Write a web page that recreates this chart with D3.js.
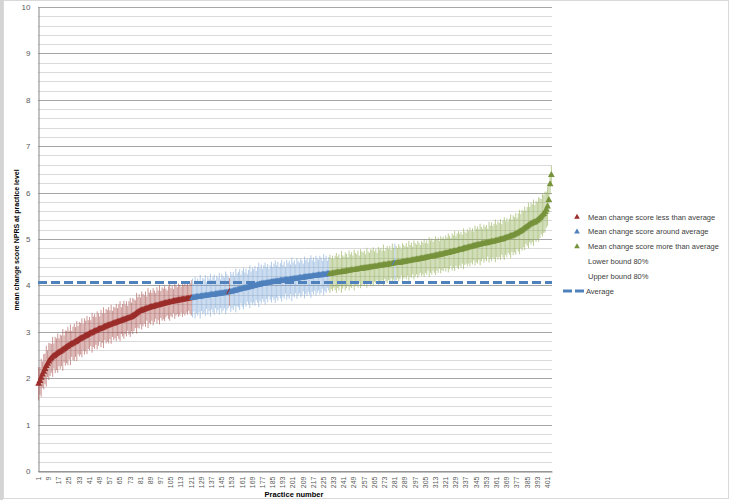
<!DOCTYPE html>
<html>
<head>
<meta charset="utf-8">
<script src="https://cdn.jsdelivr.net/npm/d3@7"></script>
<style>
	body { margin: 0; background: #fff; }
	text { font-family: "Liberation Sans", Arial, sans-serif; }
</style>
</head>
<body>
<svg id="chart" width="730" height="500"></svg>
<script>
// mean change score per practice, sorted ascending
const means = [
	1.88, 1.94, 2.01, 2.08, 2.14, 2.20, 2.26, 2.31, 2.36, 2.40,
	2.43, 2.46, 2.48, 2.50, 2.52, 2.54, 2.56, 2.57, 2.59, 2.61,
	2.63, 2.65, 2.67, 2.69, 2.71, 2.72, 2.74, 2.75, 2.77, 2.78,
	2.80, 2.82, 2.84, 2.85, 2.87, 2.88, 2.90, 2.91, 2.93, 2.94,
	2.96, 2.97, 2.98, 3.00, 3.01, 3.02, 3.03, 3.05, 3.06, 3.07,
	3.08, 3.09, 3.11, 3.12, 3.13, 3.14, 3.15, 3.16, 3.17, 3.18,
	3.19, 3.20, 3.21, 3.22, 3.23, 3.24, 3.25, 3.26, 3.27, 3.28,
	3.29, 3.30, 3.31, 3.32, 3.34, 3.36, 3.38, 3.40, 3.42, 3.44,
	3.45, 3.46, 3.47, 3.48, 3.49, 3.50, 3.51, 3.52, 3.53, 3.54,
	3.54, 3.55, 3.56, 3.57, 3.57, 3.58, 3.59, 3.60, 3.60, 3.61,
	3.62, 3.62, 3.63, 3.64, 3.64, 3.65, 3.66, 3.66, 3.67, 3.67,
	3.68, 3.68, 3.69, 3.69, 3.70, 3.70, 3.71, 3.71, 3.72, 3.72,
	3.73, 3.73, 3.74, 3.74, 3.75, 3.75, 3.75, 3.76, 3.76, 3.77,
	3.77, 3.78, 3.78, 3.78, 3.79, 3.79, 3.80, 3.80, 3.80, 3.81,
	3.81, 3.82, 3.82, 3.82, 3.83, 3.83, 3.84, 3.84, 3.85, 3.85,
	3.86, 3.86, 3.87, 3.88, 3.88, 3.89, 3.90, 3.91, 3.91, 3.92,
	3.93, 3.93, 3.94, 3.95, 3.95, 3.96, 3.97, 3.97, 3.98, 3.99,
	3.99, 4.00, 4.01, 4.01, 4.02, 4.03, 4.03, 4.04, 4.04, 4.05,
	4.05, 4.06, 4.06, 4.07, 4.07, 4.08, 4.08, 4.08, 4.09, 4.09,
	4.10, 4.10, 4.10, 4.11, 4.11, 4.12, 4.12, 4.12, 4.13, 4.13,
	4.14, 4.14, 4.14, 4.15, 4.15, 4.16, 4.16, 4.16, 4.17, 4.17,
	4.18, 4.18, 4.18, 4.19, 4.19, 4.20, 4.20, 4.20, 4.21, 4.21,
	4.22, 4.22, 4.22, 4.23, 4.23, 4.23, 4.24, 4.24, 4.25, 4.25,
	4.25, 4.26, 4.26, 4.27, 4.27, 4.28, 4.28, 4.28, 4.29, 4.29,
	4.30, 4.30, 4.31, 4.31, 4.32, 4.32, 4.33, 4.33, 4.33, 4.34,
	4.34, 4.35, 4.35, 4.36, 4.36, 4.37, 4.37, 4.37, 4.38, 4.38,
	4.39, 4.39, 4.40, 4.40, 4.40, 4.41, 4.41, 4.42, 4.42, 4.43,
	4.43, 4.44, 4.44, 4.44, 4.45, 4.45, 4.46, 4.46, 4.47, 4.47,
	4.48, 4.48, 4.48, 4.49, 4.49, 4.50, 4.50, 4.51, 4.51, 4.52,
	4.52, 4.53, 4.53, 4.54, 4.54, 4.55, 4.55, 4.56, 4.56, 4.57,
	4.57, 4.58, 4.58, 4.59, 4.59, 4.60, 4.61, 4.61, 4.62, 4.62,
	4.63, 4.63, 4.64, 4.65, 4.65, 4.66, 4.66, 4.67, 4.68, 4.68,
	4.69, 4.70, 4.70, 4.71, 4.72, 4.72, 4.73, 4.74, 4.74, 4.75,
	4.76, 4.77, 4.77, 4.78, 4.79, 4.80, 4.80, 4.81, 4.82, 4.83,
	4.83, 4.84, 4.85, 4.86, 4.86, 4.87, 4.88, 4.88, 4.89, 4.90,
	4.90, 4.91, 4.91, 4.92, 4.93, 4.93, 4.94, 4.94, 4.95, 4.96,
	4.96, 4.97, 4.98, 4.99, 4.99, 5.00, 5.01, 5.02, 5.03, 5.04,
	5.05, 5.06, 5.07, 5.08, 5.09, 5.11, 5.12, 5.14, 5.15, 5.17,
	5.19, 5.21, 5.23, 5.25, 5.27, 5.29, 5.31, 5.33, 5.34, 5.35,
	5.36, 5.38, 5.40, 5.42, 5.45, 5.48, 5.51, 5.54, 5.58, 5.63,
	5.70, 5.84, 6.18, 6.38
];

// half width of the 80% interval (upper bound - mean = mean - lower bound)
const ci80 = [
	0.36, 0.30, 0.41, 0.28, 0.38, 0.33, 0.44, 0.29, 0.40, 0.35, 0.31, 0.43, 0.27, 0.39, 0.34, 0.42, 0.30, 0.37, 0.33, 0.45,
	0.29, 0.38, 0.35, 0.41, 0.31, 0.44, 0.28, 0.36, 0.40, 0.32, 0.43, 0.30, 0.37, 0.34, 0.42, 0.29, 0.39, 0.33, 0.41, 0.31,
	0.36, 0.28, 0.43, 0.33, 0.38, 0.30, 0.41, 0.35, 0.27, 0.40, 0.32, 0.44, 0.29, 0.37, 0.34, 0.39, 0.31, 0.42, 0.28, 0.36,
	0.33, 0.40, 0.30, 0.37, 0.43, 0.29, 0.35, 0.41, 0.32, 0.38, 0.27, 0.36, 0.42, 0.31, 0.39, 0.34, 0.30, 0.44, 0.33, 0.37,
	0.29, 0.41, 0.35, 0.31, 0.38, 0.26, 0.43, 0.33, 0.37, 0.30, 0.40, 0.34, 0.28, 0.39, 0.32, 0.42, 0.29, 0.36, 0.33, 0.38,
	0.31, 0.27, 0.35, 0.40, 0.30, 0.34, 0.26, 0.38, 0.32, 0.29, 0.36, 0.33, 0.28, 0.37, 0.31, 0.35, 0.30, 0.34, 0.27, 0.33,
	0.38, 0.42, 0.30, 0.45, 0.35, 0.40, 0.33, 0.47, 0.31, 0.39, 0.36, 0.44, 0.29, 0.41, 0.34, 0.46, 0.32, 0.38, 0.43, 0.30,
	0.40, 0.35, 0.45, 0.31, 0.42, 0.37, 0.33, 0.46, 0.39, 0.34, 0.30, 0.43, 0.36, 0.41, 0.32, 0.47, 0.35, 0.38, 0.44, 0.31,
	0.39, 0.45, 0.34, 0.41, 0.30, 0.37, 0.46, 0.33, 0.40, 0.36, 0.43, 0.31, 0.38, 0.48, 0.35, 0.42, 0.32, 0.39, 0.45, 0.34,
	0.41, 0.30, 0.37, 0.44, 0.33, 0.39, 0.46, 0.35, 0.42, 0.31, 0.38, 0.45, 0.34, 0.40, 0.29, 0.43, 0.36, 0.41, 0.32, 0.47,
	0.35, 0.40, 0.31, 0.44, 0.37, 0.33, 0.42, 0.38, 0.30, 0.45, 0.36, 0.41, 0.32, 0.39, 0.46, 0.34, 0.40, 0.31, 0.43, 0.37,
	0.33, 0.42, 0.38, 0.30, 0.44, 0.35, 0.40, 0.29, 0.36, 0.41, 0.33, 0.38, 0.31, 0.37, 0.43, 0.34, 0.39, 0.30, 0.45, 0.36,
	0.32, 0.41, 0.37, 0.30, 0.43, 0.35, 0.39, 0.31, 0.44, 0.36, 0.33, 0.40, 0.29, 0.42, 0.37, 0.34, 0.38, 0.30, 0.43, 0.35,
	0.31, 0.39, 0.36, 0.42, 0.33, 0.37, 0.29, 0.41, 0.35, 0.38, 0.32, 0.44, 0.30, 0.36, 0.40, 0.33, 0.39, 0.31, 0.43, 0.34,
	0.42, 0.37, 0.32, 0.40, 0.35, 0.29, 0.41, 0.36, 0.33, 0.39, 0.31, 0.43, 0.34, 0.38, 0.30, 0.42, 0.36, 0.32, 0.40, 0.35,
	0.30, 0.38, 0.34, 0.41, 0.32, 0.37, 0.29, 0.43, 0.35, 0.39, 0.31, 0.36, 0.42, 0.33, 0.38, 0.30, 0.40, 0.34, 0.37, 0.31,
	0.39, 0.33, 0.42, 0.36, 0.30, 0.40, 0.35, 0.43, 0.32, 0.37, 0.41, 0.34, 0.38, 0.31, 0.44, 0.36, 0.33, 0.40, 0.35, 0.42,
	0.34, 0.39, 0.31, 0.43, 0.36, 0.40, 0.33, 0.45, 0.37, 0.32, 0.41, 0.35, 0.39, 0.30, 0.44, 0.36, 0.42, 0.34, 0.38, 0.46,
	0.35, 0.41, 0.37, 0.44, 0.33, 0.40, 0.46, 0.36, 0.42, 0.34, 0.39, 0.47, 0.35, 0.43, 0.38, 0.45, 0.33, 0.41, 0.48, 0.37,
	0.44, 0.39, 0.47, 0.36, 0.42, 0.49, 0.38, 0.45, 0.41, 0.50, 0.37, 0.44, 0.40, 0.48, 0.43, 0.38, 0.46, 0.41, 0.44, 0.39,
	0.42, 0.30, 0.22, 0.20
];

// which series each practice belongs to, as runs in practice order
const groupRuns = [
	["less", 121], ["around", 29], ["less", 1], ["around", 78],
	["more", 51], ["around", 1], ["more", 123]
];

const average = 4.06;
const yTicks = [0, 1, 2, 3, 4, 5, 6, 7, 8, 9, 10];
const legendLabels = [
	"Mean change score less than average",
	"Mean change score around average",
	"Mean change score more than average",
	"Lower bound 80%",
	"Upper bound 80%",
	"Average"
];

const colors = {
	less: { marker: "#9b2d2a", bar: "#a8504d" },
	around: { marker: "#4f81bd", bar: "#7ea8d8" },
	more: { marker: "#77933c", bar: "#8fad50" }
};

// build rows
const groups = groupRuns.flatMap(([g, n]) => d3.range(n).map(() => g));
const practices = d3.range(1, means.length + 1);
const data = practices.map((p, i) => ({
	practice: p,
	mean: means[i],
	lo: means[i] - ci80[i],
	hi: means[i] + ci80[i],
	group: groups[i]
}));

const svg = d3.select("#chart");

// frame
svg.append("rect").attr("x", 0).attr("y", 0).attr("width", 3).attr("height", 500).attr("fill", "#d4d4d4");
svg.append("rect").attr("x", 3.5).attr("y", 0.5).attr("width", 725).attr("height", 498)
	.attr("fill", "none").attr("stroke", "#d9d9d9");

const plot = { left: 38, right: 552, top: 7, bottom: 471 };

const x = d3.scaleBand().domain(practices).range([plot.left, plot.right]);
const y = d3.scaleLinear().domain([0, 10]).range([plot.bottom, plot.top]);

// grid lines: minor every 0.2, major every 1
const gridVals = d3.range(0, 51).map((k) => k / 5);
svg.append("g")
	.selectAll("line")
	.data(gridVals)
	.join("line")
	.attr("x1", plot.left)
	.attr("x2", plot.right)
	.attr("y1", (d) => Math.round(y(d)) + 0.5)
	.attr("y2", (d) => Math.round(y(d)) + 0.5)
	.attr("stroke", (d, i) => (i % 5 === 0 ? "#a6a6a6" : "#dadada"))
	.attr("stroke-width", 1);

// y axis
const yAxis = svg.append("g")
	.attr("transform", `translate(${plot.left + 0.5},0)`)
	.call(d3.axisLeft(y).tickValues(yTicks).tickSize(0).tickPadding(8));
yAxis.select(".domain").attr("stroke", "#868686");
yAxis.selectAll("text").attr("fill", "#595959").style("font-size", "8px");

// x axis
const xAxis = svg.append("g")
	.attr("transform", `translate(0,${plot.bottom + 0.5})`)
	.call(
		d3.axisBottom(x)
			.tickValues(practices.filter((p) => (p - 1) % 8 === 0))
			.tickSize(0)
	);
xAxis.select(".domain").attr("stroke", "#868686");
xAxis.selectAll("text")
	.attr("fill", "#595959")
	.style("font-size", "7px")
	.attr("text-anchor", "end")
	.attr("transform", "rotate(-90)")
	.attr("x", -5)
	.attr("y", 0)
	.attr("dy", "0.33em");

// error bars
svg.append("g")
	.selectAll("line")
	.data(data)
	.join("line")
	.attr("x1", (d) => x(d.practice) + x.bandwidth() / 2)
	.attr("x2", (d) => x(d.practice) + x.bandwidth() / 2)
	.attr("y1", (d) => y(d.lo))
	.attr("y2", (d) => y(d.hi))
	.attr("stroke", (d) => colors[d.group].bar)
	.attr("stroke-width", 0.6);

// average line
svg.append("line")
	.attr("x1", plot.left)
	.attr("x2", plot.right)
	.attr("y1", y(average))
	.attr("y2", y(average))
	.attr("stroke", "#4f81bd")
	.attr("stroke-width", 3)
	.attr("stroke-dasharray", "9,4");

// markers
const tri = d3.symbol().type(d3.symbolTriangle).size(20);
svg.append("g")
	.selectAll("path")
	.data(data)
	.join("path")
	.attr("d", tri)
	.attr("transform", (d) => `translate(${x(d.practice) + x.bandwidth() / 2},${y(d.mean)})`)
	.attr("fill", (d) => colors[d.group].marker);

// axis titles
svg.append("text")
	.attr("transform", "translate(19,240) rotate(-90)")
	.attr("text-anchor", "middle")
	.style("font-size", "7px")
	.style("font-weight", "bold")
	.attr("fill", "#000")
	.text("mean change score NPRS at practice level");

svg.append("text")
	.attr("x", 294)
	.attr("y", 497)
	.attr("text-anchor", "middle")
	.style("font-size", "7.5px")
	.style("font-weight", "bold")
	.attr("fill", "#000")
	.text("Practice number");

// legend
const legendKeys = ["less", "around", "more", null, null, "avg"];
const legend = svg.append("g")
	.selectAll("g")
	.data(legendLabels)
	.join("g")
	.attr("transform", (d, i) => `translate(577,${217 + i * 14.8})`);

legend.filter((d, i) => ["less", "around", "more"].includes(legendKeys[i]))
	.append("path")
	.attr("d", d3.symbol().type(d3.symbolTriangle).size(14))
	.attr("fill", (d, i) => colors[legendKeys[i]].marker);

legend.filter((d, i) => legendKeys[i] === "avg")
	.append("line")
	.attr("x1", -14)
	.attr("x2", 9)
	.attr("y1", 0)
	.attr("y2", 0)
	.attr("stroke", "#4f81bd")
	.attr("stroke-width", 3)
	.attr("stroke-dasharray", "9,3");

legend.append("text")
	.attr("x", (d, i) => (legendKeys[i] === "avg" ? 9 : 11))
	.attr("dy", "0.35em")
	.style("font-size", "7.5px")
	.attr("fill", "#404040")
	.text((d) => d);
</script>
</body>
</html>
